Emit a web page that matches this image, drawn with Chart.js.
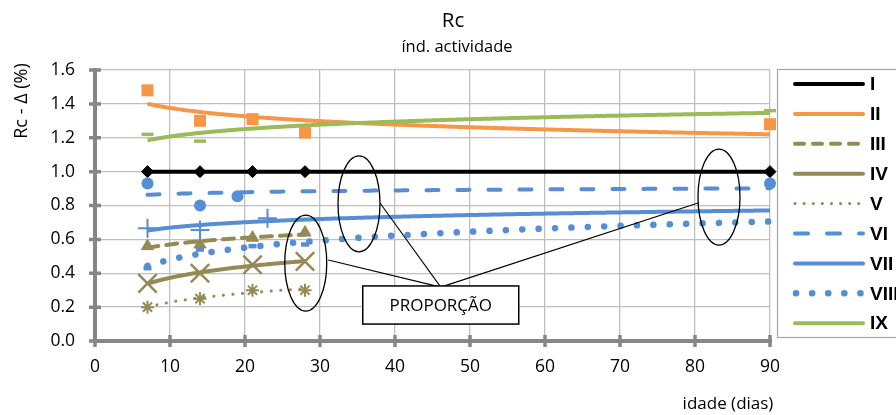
<!DOCTYPE html>
<html>
<head>
<meta charset="utf-8">
<title>Rc – índ. actividade</title>
<script src="https://cdn.jsdelivr.net/npm/chart.js@4.4.1/dist/chart.umd.min.js"></script>
<style>
  html, body { margin: 0; padding: 0; background: #ffffff; }
  #wrap { width: 896px; height: 415px; position: relative; }
  canvas { display: block; }
</style>
</head>
<body>
<div id="wrap"><canvas id="chart" width="896" height="415"></canvas></div>
<script>
// ---- data: age (days) and Rc - Δ (%) for each mix ----
const seriesNames = ['I', 'II', 'III', 'IV', 'V', 'VI', 'VII', 'VIII', 'IX'];

const ageI = [7, 14, 21, 28, 90];
const rcI = [1.00, 1.00, 1.00, 1.00, 1.00];
const ageII = [7, 14, 21, 28, 90];
const rcII = [1.48, 1.30, 1.31, 1.23, 1.28];
const ageIII = [7, 14, 21, 28];
const rcIII = [0.56, 0.57, 0.61, 0.64];
const ageIV = [7, 14, 21, 28];
const rcIV = [0.34, 0.40, 0.45, 0.47];
const ageV = [7, 14, 21, 28];
const rcV = [0.20, 0.25, 0.30, 0.30];
const ageVI = [7, 14, 19, 90];
const rcVI = [0.93, 0.80, 0.855, 0.93];
const ageVII = [7, 14, 23];
const rcVII = [0.665, 0.655, 0.725];
const ageVIII = [7, 14, 21, 28];
const rcVIII = [0.43, 0.54, 0.56, 0.57];
const ageIX = [7, 14, 90];
const rcIX = [1.22, 1.18, 1.36];

// last age covered by each logarithmic trend line
const trendUntil = [90, 90, 28, 28, 28, 90, 90, 90, 90];

const xTicks = [0, 10, 20, 30, 40, 50, 60, 70, 80, 90];
const yTicks = [0, 0.2, 0.4, 0.6, 0.8, 1.0, 1.2, 1.4, 1.6];

const ages = [ageI, ageII, ageIII, ageIV, ageV, ageVI, ageVII, ageVIII, ageIX];
const rcs = [rcI, rcII, rcIII, rcIV, rcV, rcVI, rcVII, rcVIII, rcIX];

// ---- styles ----
const ORANGE = '#F79646', OLIVE = '#948A54', BLUE = '#558ED5', GREEN = '#9BBB59', BLACK = '#000000';
const lineStyles = [
  { color: BLACK,  width: 4,   dash: [],         cap: 'butt' },
  { color: ORANGE, width: 4,   dash: [],         cap: 'butt' },
  { color: OLIVE,  width: 4,   dash: [11, 8],    cap: 'round' },
  { color: OLIVE,  width: 4,   dash: [],         cap: 'butt' },
  { color: OLIVE,  width: 3,   dash: [0.1, 9.5], cap: 'round' },
  { color: BLUE,   width: 4,   dash: [12, 19],   cap: 'round' },
  { color: BLUE,   width: 4,   dash: [],         cap: 'butt' },
  { color: BLUE,   width: 6.5, dash: [0.1, 16.3],cap: 'round' },
  { color: GREEN,  width: 4,   dash: [],         cap: 'butt' }
];
const markerStyles = [
  { style: 'rectRot',  radius: 6,   border: 1 },
  { style: 'rect',     radius: 8.5, border: 0 },
  { style: 'triangle', radius: 7,   border: 1 },
  { style: 'crossRot', radius: 13,  border: 2.5 },
  { style: 'star',     radius: 6.5, border: 2 },
  { style: 'circle',   radius: 6,   border: 0 },
  { style: 'cross',    radius: 9.5, border: 2 },
  { style: 'line',     radius: 4,   border: 4.5 },
  { style: 'line',     radius: 6,   border: 3.5 }
];

// least-squares fit of y = a + b·ln(x)
function logFit(xs, ys) {
  const lx = xs.map(v => Math.log(v));
  const n = xs.length;
  const mx = lx.reduce((s, v) => s + v, 0) / n;
  const my = ys.reduce((s, v) => s + v, 0) / n;
  let sxy = 0, sxx = 0;
  for (let i = 0; i < n; i++) { sxy += (lx[i] - mx) * (ys[i] - my); sxx += (lx[i] - mx) ** 2; }
  const b = sxx === 0 ? 0 : sxy / sxx;
  return { a: my - b * mx, b };
}

function trendPoints(xs, ys, xEnd) {
  const f = logFit(xs, ys);
  const pts = [];
  const x0 = Math.min(...xs);
  for (let x = x0; x < xEnd; x += 0.25) pts.push({ x, y: f.a + f.b * Math.log(x) });
  pts.push({ x: xEnd, y: f.a + f.b * Math.log(xEnd) });
  return pts;
}

const datasets = [];
seriesNames.forEach((name, i) => {
  const ls = lineStyles[i], ms = markerStyles[i];
  datasets.push({
    label: name + ' trend',
    data: trendPoints(ages[i], rcs[i], trendUntil[i]),
    showLine: true,
    borderColor: ls.color,
    borderWidth: ls.width,
    borderDash: ls.dash,
    borderCapStyle: ls.cap,
    borderJoinStyle: 'round',
    pointRadius: 0,
    pointHoverRadius: 0,
    tension: 0,
    fill: false,
    clip: false,
    order: 20 - i
  });
  datasets.push({
    label: name,
    data: ages[i].map((x, k) => ({ x, y: rcs[i][k] })),
    showLine: false,
    pointStyle: ms.style,
    pointRadius: ms.radius,
    pointHoverRadius: ms.radius,
    pointBackgroundColor: ls.color,
    pointBorderColor: ls.color,
    pointBorderWidth: ms.border,
    clip: false,
    order: 10 - i
  });
});

const AXIS_GREY = '#868686';
const FONT = "'Open Sans', 'DejaVu Sans', sans-serif";

// axes with cross tick marks, titles, legend and the "PROPORÇÃO" callout
const decorations = {
  id: 'decorations',
  beforeDatasetsDraw(chart) {
    const { ctx, chartArea: ca, scales: { x, y } } = chart;
    ctx.save();
    ctx.strokeStyle = AXIS_GREY;
    ctx.lineWidth = 4;
    ctx.beginPath();
    ctx.moveTo(ca.left, ca.top - 2); ctx.lineTo(ca.left, ca.bottom + 2);
    ctx.moveTo(ca.left - 2, ca.bottom); ctx.lineTo(ca.right + 2, ca.bottom);
    ctx.stroke();
    ctx.lineWidth = 3.5;
    ctx.beginPath();
    yTicks.forEach(v => { const py = y.getPixelForValue(v); ctx.moveTo(ca.left - 6, py); ctx.lineTo(ca.left + 6, py); });
    xTicks.forEach(v => { const px = x.getPixelForValue(v); ctx.moveTo(px, ca.bottom - 6); ctx.lineTo(px, ca.bottom + 6); });
    ctx.stroke();
    ctx.restore();
  },
  afterDraw(chart) {
    const { ctx, chartArea: ca, scales: { x, y } } = chart;
    ctx.save();

    // titles
    ctx.fillStyle = '#000';
    ctx.textAlign = 'center';
    ctx.textBaseline = 'middle';
    ctx.font = '20.5px ' + FONT;
    ctx.fillText('Rc', 453, 21);
    ctx.font = '16.5px ' + FONT;
    ctx.fillText('índ. actividade', 457, 47);
    ctx.font = '17px ' + FONT;
    ctx.fillText('idade (dias)', 728, 404);
    ctx.save();
    ctx.translate(22, 101);
    ctx.rotate(-Math.PI / 2);
    ctx.font = '18px ' + FONT;
    ctx.fillText('Rc - Δ (%)', 0, 0);
    ctx.restore();

    // legend
    const lx = 777, ly = 69, lh = 268;
    ctx.strokeStyle = '#A6A6A6';
    ctx.lineWidth = 1.2;
    ctx.strokeRect(lx + 0.5, ly + 0.5, 140, lh);
    ctx.font = 'bold 19px "Liberation Sans", Arial, sans-serif';
    ctx.textAlign = 'left';
    seriesNames.forEach((name, i) => {
      const ls = lineStyles[i];
      const cy = 84 + i * 29.9;
      ctx.save();
      ctx.strokeStyle = ls.color;
      ctx.lineWidth = ls.width;
      ctx.lineCap = ls.cap === 'butt' ? 'round' : ls.cap;
      let dash = ls.dash;
      if (i === 2) dash = [9, 9];
      if (i === 4) dash = [0.1, 9];
      if (i === 5) dash = [13, 19];
      if (i === 7) dash = [0.1, 16];
      ctx.setLineDash(dash);
      ctx.beginPath();
      ctx.moveTo(i === 7 ? 796 : 795, cy);
      ctx.lineTo(863, cy);
      ctx.stroke();
      ctx.restore();
      ctx.fillStyle = '#000';
      ctx.fillText(name, 870, cy + 1);
    });

    // callout: ellipses around the highlighted marks, leader lines and label box
    const px = v => x.getPixelForValue(v), py = v => y.getPixelForValue(v);
    const ellipses = [[28.1, 0.46], [35.2, 0.81], [83.2, 0.85]];
    ctx.strokeStyle = '#000';
    ctx.lineWidth = 1.3;
    ellipses.forEach(([ex, ey]) => {
      ctx.beginPath();
      ctx.ellipse(px(ex), py(ey), 21, 48, 0, 0, Math.PI * 2);
      ctx.stroke();
    });
    const hub = [px(46.1), py(0.318)];
    const ends = [[31.1, 0.478], [38.0, 0.815], [80.4, 0.815]];
    ctx.lineWidth = 1.1;
    ctx.beginPath();
    ends.forEach(([ex, ey]) => { ctx.moveTo(hub[0], hub[1]); ctx.lineTo(px(ex), py(ey)); });
    ctx.stroke();
    const bx0 = px(35.7), bx1 = px(56.5), by0 = py(0.325), by1 = py(0.10);
    ctx.fillStyle = '#fff';
    ctx.fillRect(bx0, by0, bx1 - bx0, by1 - by0);
    ctx.lineWidth = 1.5;
    ctx.strokeRect(bx0, by0, bx1 - bx0, by1 - by0);
    ctx.fillStyle = '#000';
    ctx.textAlign = 'center';
    ctx.font = '17px ' + FONT;
    ctx.fillText('PROPORÇÃO', (bx0 + bx1) / 2, (by0 + by1) / 2 + 1);

    ctx.restore();
  }
};

new Chart(document.getElementById('chart'), {
  type: 'scatter',
  data: { datasets },
  options: {
    responsive: false,
    animation: false,
    devicePixelRatio: 1,
    layout: { padding: { left: 0, top: 70, right: 126, bottom: 0 } },
    plugins: { legend: { display: false }, title: { display: false }, tooltip: { enabled: false } },
    scales: {
      x: {
        type: 'linear', min: 0, max: 90,
        afterFit: s => { s.height = 74; },
        afterBuildTicks: s => { s.ticks = xTicks.map(v => ({ value: v })); },
        grid: { color: '#BFBFBF', lineWidth: 1.3, drawTicks: false },
        border: { display: false },
        ticks: { padding: 16, color: '#000', font: { family: FONT, size: 17.5 }, maxRotation: 0 }
      },
      y: {
        type: 'linear', min: 0, max: 1.6,
        afterFit: s => { s.width = 95; },
        afterBuildTicks: s => { s.ticks = yTicks.map(v => ({ value: v })); },
        grid: { color: '#BFBFBF', lineWidth: 1.3, drawTicks: false },
        border: { display: false },
        ticks: { padding: 20, color: '#000', font: { family: FONT, size: 17.5 }, callback: v => v.toFixed(1) }
      }
    }
  },
  plugins: [decorations]
});
</script>
</body>
</html>
